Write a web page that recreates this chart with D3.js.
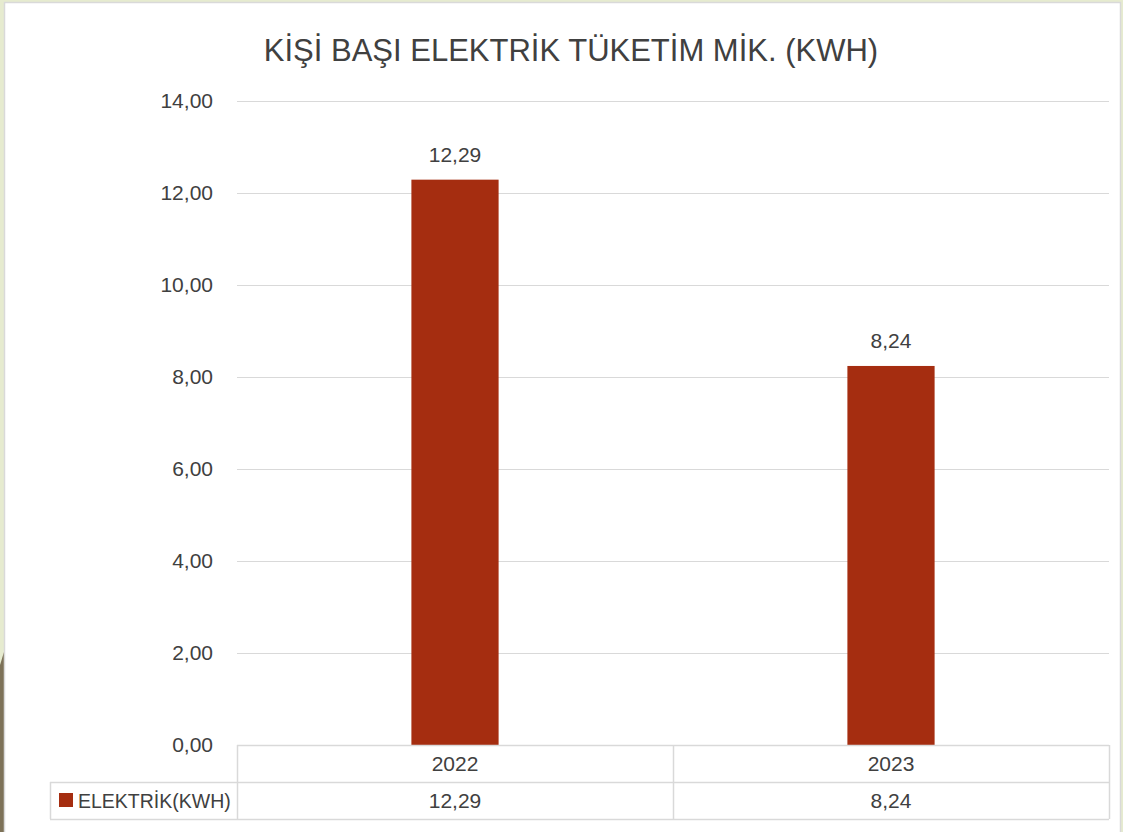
<!DOCTYPE html>
<html>
<head>
<meta charset="utf-8">
<script src="https://cdn.jsdelivr.net/npm/d3@7"></script>
<style>
  html, body { margin: 0; padding: 0; background: #e6ebcf; }
  svg { display: block; font-family: "Liberation Sans", "Noto Sans", sans-serif; }
</style>
</head>
<body>
<svg id="chart" width="1123" height="832"></svg>
<script>
// data
const title = "KİŞİ BAŞI ELEKTRİK TÜKETİM MİK. (KWH)";
const years = ["2022", "2023"];
const values = [12.29, 8.24];
const seriesName = "ELEKTRİK(KWH)";
const yTicks = [0, 2, 4, 6, 8, 10, 12, 14];

const width = 1123, height = 832;
const plot = { left: 237, right: 1109, top: 101, bottom: 745 };
const barColor = "#a52d10";
const gridColor = "#d9d9d9";
const textColor = "#404040";
const numSize = 21;

const tr = d3.formatLocale({ decimal: ",", thousands: ".", grouping: [3], currency: ["", ""] });
const fmt = tr.format(".2f");

const svg = d3.select("#chart");

// page background bits at the left edge
svg.append("rect").attr("x", 0).attr("y", 0).attr("width", width).attr("height", height).attr("fill", "#e6ebcf");
svg.append("path")
    .attr("d", "M0,665 L4,652 L4,832 L0,832 Z")
    .attr("fill", "#7d7258");

// chart box
svg.append("rect")
    .attr("x", 4.5).attr("y", 2.5)
    .attr("width", 1116).attr("height", 860)
    .attr("fill", "#fff")
    .attr("stroke", gridColor).attr("stroke-width", 1.5);

const x = d3.scaleBand().domain(years).range([plot.left, plot.right]).padding(0);
const y = d3.scaleLinear().domain([0, 14]).range([plot.bottom, plot.top]);

// gridlines
svg.append("g").selectAll("line").data(yTicks.filter(d => d > 0)).join("line")
    .attr("x1", plot.left).attr("x2", plot.right)
    .attr("y1", d => Math.round(y(d)) + 0.5).attr("y2", d => Math.round(y(d)) + 0.5)
    .attr("stroke", gridColor).attr("stroke-width", 1);

// y axis labels
const yAxis = d3.axisLeft(y).tickValues(yTicks).tickFormat(fmt).tickSize(0).tickPadding(24);
svg.append("g")
    .attr("transform", `translate(${plot.left},0)`)
    .call(yAxis)
    .call(g => g.select(".domain").remove())
    .call(g => g.selectAll("text")
        .attr("font-size", numSize).attr("fill", textColor)
        .attr("font-family", "Liberation Sans, sans-serif"));

// bars
const barW = x.bandwidth() * 0.2;
svg.append("g").selectAll("rect").data(values).join("rect")
    .attr("x", (d, i) => x(years[i]) + (x.bandwidth() - barW) / 2)
    .attr("y", d => y(d))
    .attr("width", barW)
    .attr("height", d => y(0) - y(d))
    .attr("fill", barColor);

// value labels
svg.append("g").selectAll("text").data(values).join("text")
    .attr("x", (d, i) => x(years[i]) + x.bandwidth() / 2)
    .attr("y", d => y(d) - 18)
    .attr("text-anchor", "middle")
    .attr("font-size", numSize).attr("fill", textColor)
    .text(d => fmt(d));

// title
svg.append("text")
    .attr("x", 571).attr("y", 61)
    .attr("text-anchor", "middle")
    .attr("font-size", 31).attr("fill", textColor)
    .text(title);

// data table
const rowH = 37;
const row1 = plot.bottom, row2 = plot.bottom + rowH, row3 = plot.bottom + 2 * rowH;
const legendLeft = 50;
const t = svg.append("g").attr("stroke", gridColor).attr("stroke-width", 1.5);
t.append("line").attr("x1", plot.left).attr("x2", plot.right).attr("y1", row1 + 0.5).attr("y2", row1 + 0.5);
t.append("line").attr("x1", legendLeft).attr("x2", plot.right).attr("y1", row2 + 0.5).attr("y2", row2 + 0.5);
t.append("line").attr("x1", legendLeft).attr("x2", plot.right).attr("y1", row3 + 0.5).attr("y2", row3 + 0.5);
t.append("line").attr("x1", legendLeft + 0.5).attr("x2", legendLeft + 0.5).attr("y1", row2).attr("y2", row3);
t.selectAll("line.v").data([plot.left, ...years.map(yr => x(yr) + x.bandwidth())]).join("line")
    .attr("class", "v")
    .attr("x1", d => d + 0.5).attr("x2", d => d + 0.5)
    .attr("y1", row1).attr("y2", row3);

svg.append("g").selectAll("text").data(years).join("text")
    .attr("x", d => x(d) + x.bandwidth() / 2)
    .attr("y", row1 + rowH / 2 + 7)
    .attr("text-anchor", "middle")
    .attr("font-size", numSize).attr("fill", textColor)
    .text(d => d);

svg.append("g").selectAll("text").data(values).join("text")
    .attr("x", (d, i) => x(years[i]) + x.bandwidth() / 2)
    .attr("y", row2 + rowH / 2 + 7)
    .attr("text-anchor", "middle")
    .attr("font-size", numSize).attr("fill", textColor)
    .text(d => fmt(d));

// legend key in the table
svg.append("rect")
    .attr("x", 59).attr("y", row2 + 11)
    .attr("width", 14).attr("height", 14)
    .attr("fill", barColor);
svg.append("text")
    .attr("x", 78).attr("y", row2 + rowH / 2 + 7)
    .attr("font-size", 19.5).attr("fill", textColor)
    .text(seriesName);
</script>
</body>
</html>
